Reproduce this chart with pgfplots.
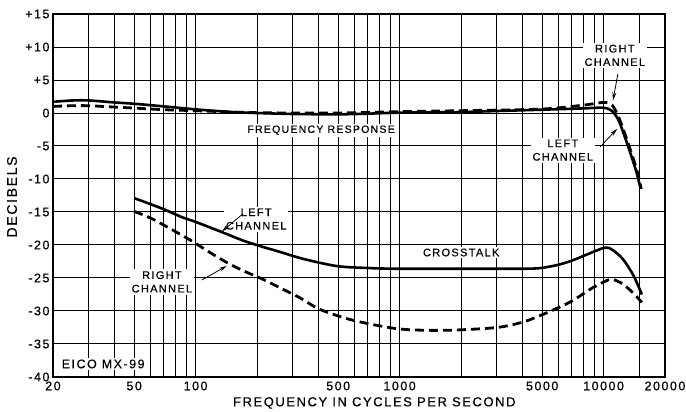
\documentclass[border=0pt]{standalone}
\usepackage{fontspec}
\setmainfont{Liberation Sans}
\newfontfamily\draft[LetterSpace=12,FakeBold=0.6]{Liberation Sans}
\usepackage{pgfplots}
\pgfplotsset{compat=1.18}
\usetikzlibrary{arrows.meta}

\begin{document}
\begin{tikzpicture}
\begin{axis}[
  xmode=log,
  scale only axis,
  width=612pt, height=363pt,
  xmin=20, xmax=20000, ymin=-40, ymax=15,
  xtick={20,50,100,500,1000,5000,10000,20000},
  xticklabels={20,50,100,500,1000,5000,10000,20000},
  minor xtick={30,40,60,70,80,90,200,300,400,600,700,800,900,2000,3000,4000,6000,7000,8000,9000,15000},
  ytick={-40,-35,...,15},
  yticklabels={-40,-35,-30,-25,-20,-15,-10,-5,0,+5,+10,+15},
  grid=both,
  major grid style={black, line width=1pt},
  minor grid style={black, line width=1pt},
  major tick length=0pt, minor tick length=0pt,
  axis line style={line width=1.8pt},
  tick label style={font=\draft\fontsize{12.5}{13}\selectfont},
  xticklabel style={yshift=-1pt},
  /pgf/number format/assume math mode=true,
  xlabel={FREQUENCY IN CYCLES PER SECOND},
  ylabel={DECIBELS},
  xlabel style={font=\draft\fontsize{13}{15}\selectfont, at={(axis description cs:0.525,-0.0716)}, anchor=center},
  ylabel style={font=\draft\fontsize{14}{16}\selectfont, at={(axis description cs:-0.067,0.496)}, anchor=center},
]
% Frequency response, left channel (solid)
\addplot[black, line width=2.6pt, smooth, tension=0.5] coordinates {
(20,1.7) (25,1.9) (30,1.9) (40,1.6) (50,1.4) (70,1.0) (100,0.55) (150,0.15)
(200,0.0) (300,-0.15) (500,-0.2) (700,-0.1) (1000,0.05) (2000,0.15) (3000,0.3)
(5000,0.5) (8000,0.7) (10000,0.8) (11000,0.3) (11800,-1.0) (12500,-3.0)
(13500,-6.0) (14500,-9.0) (15200,-11.5)};
% Frequency response, right channel (dashed)
\addplot[black, line width=2.8pt, dash pattern=on 9pt off 5pt, smooth, tension=0.5] coordinates {
(20,1.0) (25,1.1) (30,1.1) (40,0.9) (50,0.75) (70,0.5) (100,0.35) (150,0.15)
(200,0.05) (300,0) (500,0) (1000,0.2) (2000,0.35) (5000,0.6) (8000,1.2)
(10000,1.6) (11000,1.2) (11800,-0.5) (12500,-2.5) (13500,-5.5) (14500,-8.5)
(15300,-11.5)};
% Crosstalk, left channel (solid)
\addplot[black, line width=2.6pt, smooth, tension=0.5] coordinates {
(50,-12.9) (60,-13.8) (70,-14.6) (86,-15.8) (100,-16.5) (136,-18.1) (170,-19.3)
(214,-20.3) (250,-20.9) (337,-22.1) (494,-23.2) (717,-23.5) (1000,-23.6)
(2000,-23.6) (2780,-23.6) (4000,-23.6) (4880,-23.5) (6000,-23.0) (7080,-22.3)
(8500,-21.3) (10140,-20.4) (11000,-20.7) (12400,-22.1) (14000,-24.6) (15400,-27.5)};
% Crosstalk, right channel (dashed)
\addplot[black, line width=2.8pt, dash pattern=on 9pt off 5pt, smooth, tension=0.5] coordinates {
(50,-14.9) (60,-15.9) (70,-17.0) (80,-18.0) (97,-19.5) (120,-21.3) (147,-22.9)
(180,-24.2) (214,-25.2) (260,-26.5) (320,-27.9) (410,-29.8) (590,-31.4)
(928,-32.6) (1256,-32.9) (1825,-32.9) (3000,-32.5) (4000,-31.7) (4880,-30.7)
(6000,-29.5) (7080,-28.4) (8500,-26.8) (10000,-25.6) (11000,-25.2) (12400,-25.9)
(14000,-27.3) (15400,-28.7)};

\tikzset{lab/.style={fill=white, inner sep=2pt, align=center, font=\draft\fontsize{11}{13.5}\selectfont},
         arr/.style={-{Stealth[length=8pt,width=4pt]}, line width=0.8pt}}
\node[lab, font=\draft\fontsize{10.5}{13}\selectfont] at (rel axis cs:0.438,0.680) {FREQUENCY RESPONSE};
\node[lab] at (rel axis cs:0.918,0.886) {RIGHT\\CHANNEL};
\draw[arr] (rel axis cs:0.923,0.835) -- (rel axis cs:0.915,0.762);
\node[lab] at (rel axis cs:0.833,0.625) {LEFT\\CHANNEL};
\draw[arr] (rel axis cs:0.894,0.634) -- (rel axis cs:0.922,0.684);
\node[lab] at (rel axis cs:0.332,0.435) {LEFT\\CHANNEL};
\draw[arr] (rel axis cs:0.310,0.449) -- (rel axis cs:0.276,0.401);
\node[lab] at (rel axis cs:0.178,0.262) {RIGHT\\CHANNEL};
\draw[arr] (rel axis cs:0.243,0.267) -- (rel axis cs:0.284,0.306);
\node[lab] at (rel axis cs:0.667,0.343) {CROSSTALK};
\node[lab, font=\draft\fontsize{12.5}{14}\selectfont] at (rel axis cs:0.082,0.036) {EICO MX-99};
\end{axis}
\pgfresetboundingbox
\path[use as bounding box] (-53pt,-35pt) rectangle (633pt,377pt);
\end{tikzpicture}
\end{document}
